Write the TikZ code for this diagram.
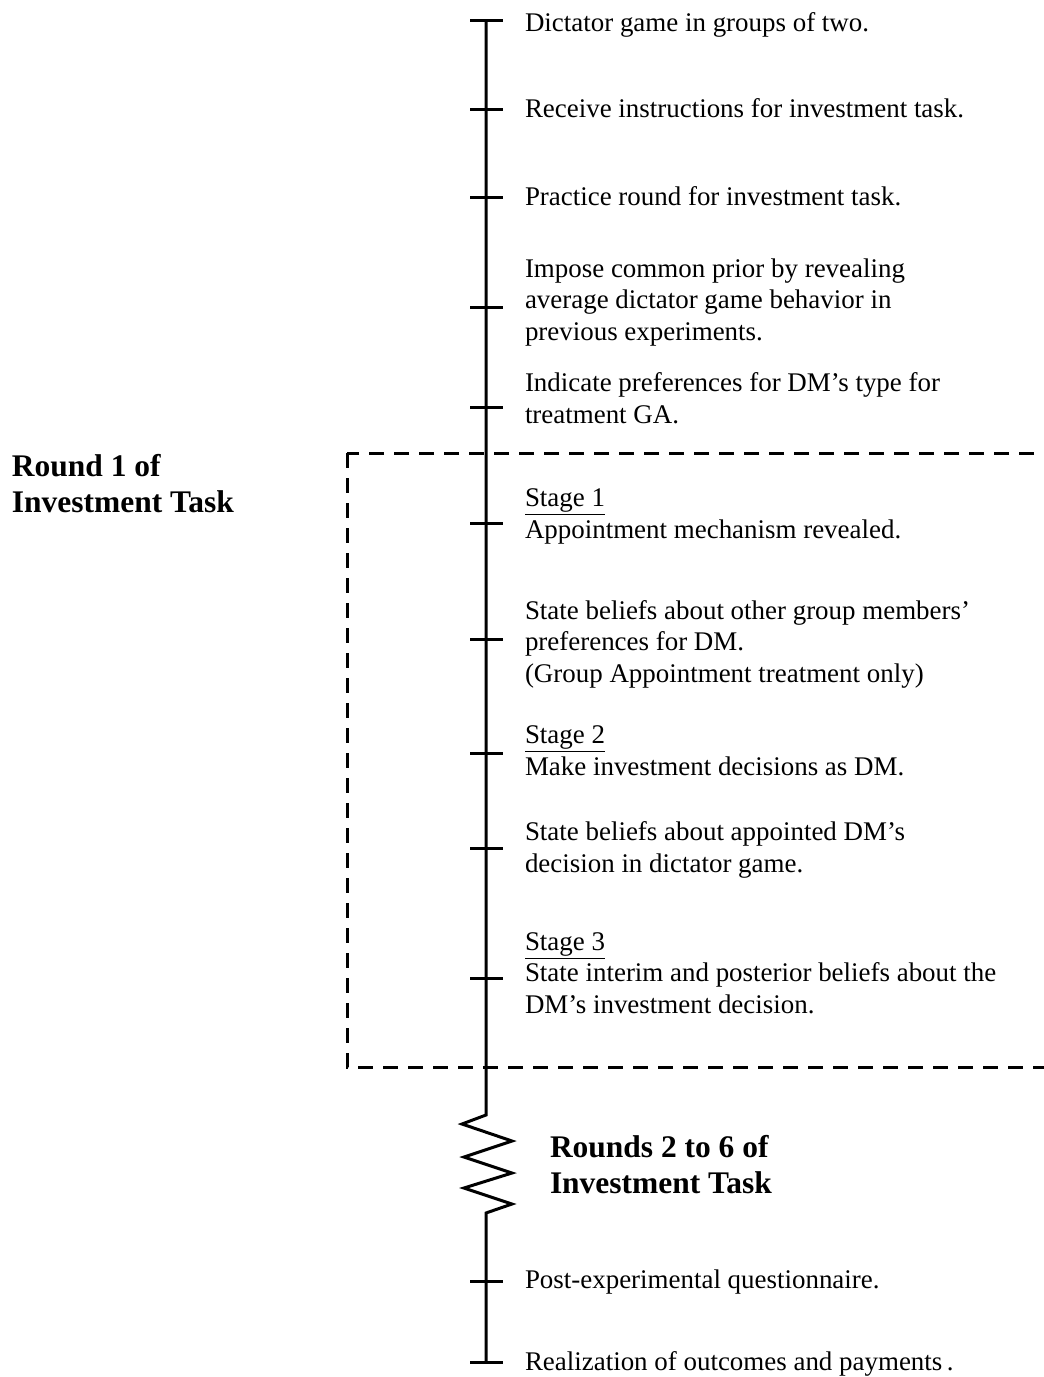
\documentclass[tikz,border=0pt]{standalone}
\usepackage{fontspec}
\setmainfont{Liberation Serif}
\begin{document}
\begin{tikzpicture}[x=0.75pt,y=-0.75pt,
  every node/.style={inner sep=0pt, outer sep=0pt},
  item/.style={anchor=base west, align=left, font=\fontsize{20.2pt}{23.4pt}\selectfont},
  heading/.style={anchor=base west, align=left, font=\fontsize{23.6pt}{26.6pt}\selectfont\bfseries},
  tline/.style={line width=2.25pt},
  phasebox/.style={line width=2.25pt, dash pattern=on 11.25pt off 7.5pt}]
\clip (0,0) rectangle (1044,1377);
% timeline positions
\coordinate (t0) at (486,21);
\coordinate (t1) at (486,110);
\coordinate (t2) at (486,197);
\coordinate (t3) at (486,307);
\coordinate (t4) at (486,407);
\coordinate (t5) at (486,523);
\coordinate (t6) at (486,639);
\coordinate (t7) at (486,753);
\coordinate (t8) at (486,848);
\coordinate (t9) at (486,978);
\coordinate (t10) at (486,1281);
\coordinate (t11) at (486,1362);
% zigzag
\coordinate (z0) at (486,1115);
\coordinate (z1) at (462,1124);
\coordinate (z2) at (512,1141);
\coordinate (z3) at (464,1157);
\coordinate (z4) at (512,1173);
\coordinate (z5) at (464,1188);
\coordinate (z6) at (512,1204);
\coordinate (z7) at (486,1213);
% dashed round-1 box
\draw[phasebox] (347,453) rectangle (1064,1067);
% main line
\draw[tline] (t0) -- (z0) -- (z1) -- (z2) -- (z3) -- (z4) -- (z5) -- (z6) -- (z7) -- (t11);
% ticks
\foreach \t in {t0,t1,t2,t3,t4,t5,t6,t7,t8,t9,t10,t11}
  \draw[tline] (\t) ++(-16,0) -- ++(33,0);
% texts (anchor = baseline of the last line)
\node[item] (n0) at (525,32) {Dictator game in groups of two.};
\node[item] (n1) at (525,118) {Receive instructions for investment task.};
\node[item] (n2) at (525,205) {Practice round for investment task.};
\node[item] (n3) at (525,340) {Impose common prior by revealing\\average dictator game behavior in\\previous experiments.};
\node[item] (n4) at (525,423) {Indicate preferences for DM’s type for\\treatment GA.};
\node[item] (n5) at (525,538) {\underline{Stage 1}\\Appointment mechanism revealed.};
\node[item] (n6) at (525,682) {State beliefs about other group members’\\preferences for DM.\\(Group Appointment treatment only)};
\node[item] (n7) at (525,775) {\underline{Stage 2}\\Make investment decisions as DM.};
\node[item] (n8) at (525,872) {State beliefs about appointed DM’s\\decision in dictator game.};
\node[item] (n9) at (525,1013) {\underline{Stage 3}\\State interim and posterior beliefs about the\\DM’s investment decision.};
\node[item] (n10) at (525,1288) {Post-experimental questionnaire.};
\node[item] (n11) at (525,1370) {Realization of outcomes and payments\,.};
\node[heading] (h1) at (12,512) {Round 1 of\\Investment Task};
\node[heading] (h2) at (550,1193) {Rounds 2 to 6 of\\Investment Task};
\end{tikzpicture}
\end{document}
